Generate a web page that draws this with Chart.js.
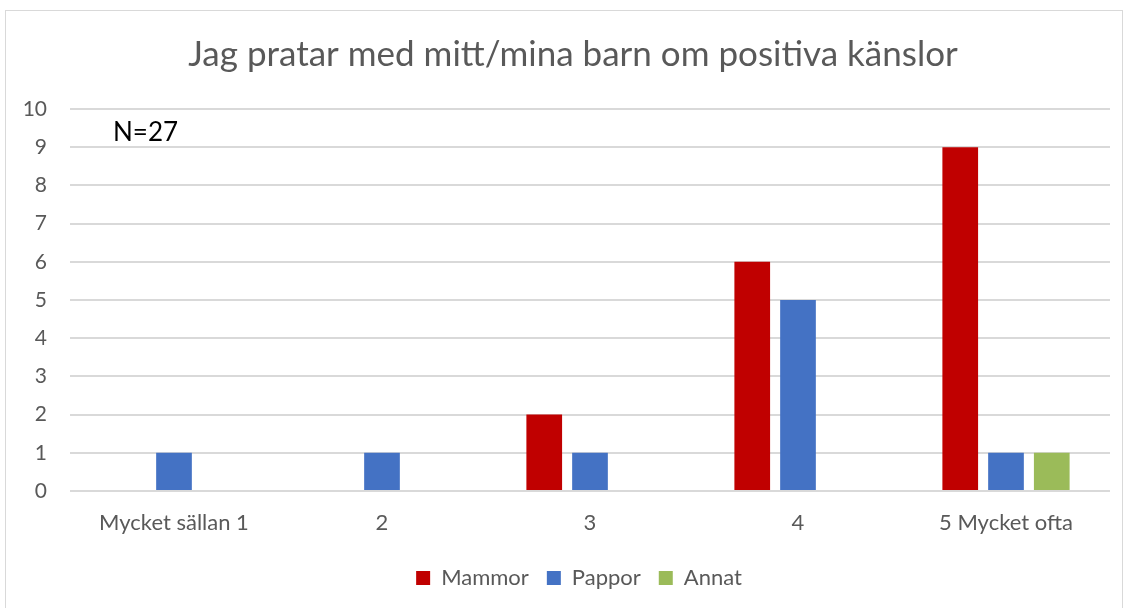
<!DOCTYPE html>
<html lang="sv">
<head>
    <meta charset="UTF-8">
    <title>Jag pratar med mitt/mina barn om positiva känslor</title>
    <script src="https://cdn.jsdelivr.net/npm/chart.js"></script>
    <style>
        body { margin: 0; background: #fff; }
        #wrap { position: relative; width: 1129px; height: 608px; overflow: hidden; }
        #frame { position: absolute; left: 5px; top: 10px; width: 1118px; height: 620px; border: 1px solid #d9d9d9; box-sizing: border-box; }
        canvas { position: absolute; left: 0; top: 0; }
    </style>
</head>
<body>
<div id="wrap">
    <div id="frame"></div>
    <canvas id="chart" width="1129" height="608"></canvas>
</div>
<script>
// data
const categories = ['Mycket sällan 1', '2', '3', '4', '5 Mycket ofta'];
const mammor = [0, 0, 2, 6, 9];
const pappor = [1, 1, 1, 5, 1];
const annat = [0, 0, 0, 0, 1];
const yTicks = [0, 1, 2, 3, 4, 5, 6, 7, 8, 9, 10];

const FONT = "Lato, 'Open Sans', sans-serif";
const GREY = '#595959';

// N=27 text in the upper left of the plot
const noteText = {
    id: 'noteText',
    afterDraw(chart) {
        const { ctx, chartArea, scales } = chart;
        ctx.save();
        ctx.font = '26px ' + FONT;
        ctx.fillStyle = '#000';
        ctx.textBaseline = 'middle';
        ctx.fillText('N=27', chartArea.left + 43, scales.y.getPixelForValue(9.37));
        ctx.restore();
    }
};

// title and legend sit a bit right of the canvas centre in the original
const shiftBlocks = {
    id: 'shiftBlocks',
    afterLayout(chart) {
        if (chart.titleBlock) chart.titleBlock.left += 36;
        if (chart.legend) chart.legend.left += 48;
    }
};

new Chart(document.getElementById('chart'), {
    type: 'bar',
    data: {
        labels: categories,
        datasets: [
            { label: 'Mammor', data: mammor, backgroundColor: '#C00000' },
            { label: 'Pappor', data: pappor, backgroundColor: '#4472C4' },
            { label: 'Annat', data: annat, backgroundColor: '#9BBB59' }
        ]
    },
    options: {
        responsive: false,
        animation: false,
        layout: { padding: { left: 0, right: 19, top: 0, bottom: 9 } },
        datasets: {
            bar: { barPercentage: 0.78, categoryPercentage: 0.66 }
        },
        plugins: {
            title: {
                display: true,
                text: 'Jag pratar med mitt/mina barn om positiva känslor',
                color: GREY,
                font: { family: FONT, size: 35, weight: 'normal' },
                padding: { top: 34, bottom: 33 }
            },
            legend: {
                position: 'bottom',
                labels: {
                    color: GREY,
                    font: { family: FONT, size: 22 },
                    boxWidth: 14,
                    boxHeight: 14,
                    padding: 18
                }
            },
            tooltip: { enabled: false }
        },
        scales: {
            x: {
                grid: { display: false, drawTicks: false },
                border: { display: false },
                ticks: { color: GREY, font: { family: FONT, size: 22 }, padding: 19 },
                afterFit: s => { s.height = 58; }
            },
            y: {
                min: 0,
                max: 10,
                afterBuildTicks: s => { s.ticks = yTicks.map(v => ({ value: v })); },
                grid: { color: '#d9d9d9', lineWidth: 2, drawTicks: false },
                border: { display: false },
                ticks: { color: GREY, font: { family: FONT, size: 21 }, padding: 23 },
                afterFit: s => { s.width = 70; }
            }
        }
    },
    plugins: [noteText, shiftBlocks]
});
</script>
</body>
</html>
